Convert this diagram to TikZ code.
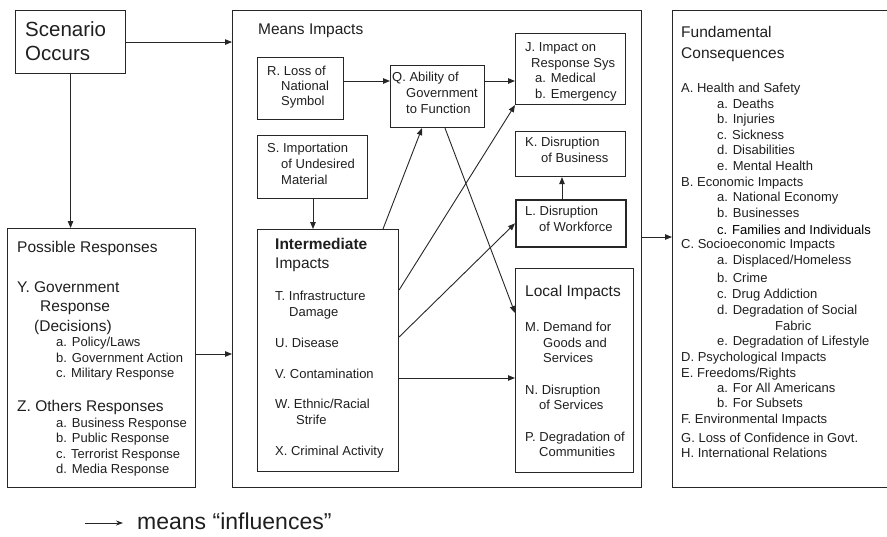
\documentclass[tikz,border=0pt]{standalone}
\usepackage{fontspec}
\setmainfont{Liberation Sans}
\usetikzlibrary{arrows.meta,calc}
\newcommand\fS{\fontsize{13}{15}\selectfont}
\newcommand\fM{\fontsize{15.5}{18}\selectfont}
\newcommand\fL{\fontsize{20.5}{24}\selectfont}
\newcommand\fG{\fontsize{23}{26}\selectfont}
\newcommand\tx[4][ts]{\node[#1] (#2) at (#3) {#4};}
\begin{document}
\begin{tikzpicture}[x=1pt,y=-1pt,
  box/.style={draw=black!85,line width=1.1pt,inner sep=0,anchor=north west},
  arr/.style={draw=black!85,line width=0.9pt,-{Triangle[length=7pt,width=5.5pt]}},
  ts/.style={anchor=base west,inner sep=0,font=\fS,text=black!88},
  tm/.style={anchor=base west,inner sep=0,font=\fM,text=black!88},
  tl/.style={anchor=base west,inner sep=0,font=\fL,text=black!88},
  tg/.style={anchor=base west,inner sep=0,font=\fG,text=black!88}]
\useasboundingbox (0,0) rectangle (887,536);
\clip (0,0) rectangle (887,536);
% boxes
\node[box,minimum width=110pt,minimum height=63pt] (scen) at (15,10) {};
\node[box,minimum width=188pt,minimum height=259pt] (poss) at (7,228) {};
\node[box,minimum width=409pt,minimum height=477pt] (means) at (232,10) {};
\node[box,minimum width=86pt,minimum height=62pt] (R) at (257,57) {};
\node[box,minimum width=110pt,minimum height=63pt] (S) at (257,135) {};
\node[box,minimum width=94pt,minimum height=62pt] (Q) at (390,65) {};
\node[box,minimum width=110pt,minimum height=71pt] (J) at (515,33) {};
\node[box,minimum width=110pt,minimum height=45pt] (K) at (515,131) {};
\node[box,line width=1.7pt,minimum width=110pt,minimum height=47pt] (L) at (515,199) {};
\node[box,minimum width=141pt,minimum height=242pt] (inter) at (257,229) {};
\node[box,minimum width=118pt,minimum height=204pt] (local) at (515,268) {};
\node[box,minimum width=240pt,minimum height=477pt] (fund) at (672,10) {};
% scenario
\tx[tl]{sc1}{25,36.3}{Scenario}
\tx[tl]{sc2}{25,60.3}{Occurs}
% possible responses
\tx[tm]{p0}{17,252.5}{Possible Responses}
\tx[tm]{p1}{17,292.5}{Y. Government}
\tx[tm]{p2}{40,311}{Response}
\tx[tm]{p3}{34,331}{(Decisions)}
\tx{p4}{56,346.5}{a. Policy/Laws}
\tx{p5}{56,362.5}{b. Government Action}
\tx{p6}{56,377.5}{c. Military Response}
\tx[tm]{p7}{17,411.5}{Z. Others Responses}
\tx{p8}{56,427.5}{a. Business Response}
\tx{p9}{56,442.5}{b. Public Response}
\tx{p10}{56,458.5}{c. Terrorist Response}
\tx{p11}{56,473.5}{d. Media Response}
% means
\tx[tm]{m0}{258,34.5}{Means Impacts}
\tx{r1}{267,75.5}{R. Loss of}
\tx{r2}{281,90.5}{National}
\tx{r3}{281,105.5}{Symbol}
\tx{s1}{267,152.5}{S. Importation}
\tx{s2}{281,168.5}{of Undesired}
\tx{s3}{281,184.5}{Material}
\tx{q1}{392,81.5}{Q. Ability of}
\tx{q2}{406,97.5}{Government}
\tx{q3}{406,113.5}{to Function}
\tx{j1}{525,51.5}{J. Impact on}
\tx{j2}{531,67.5}{Response Sys}
\tx{j3}{535,82.5}{a. Medical}
\tx{j4}{535,98.5}{b. Emergency}
\tx{k1}{525,146.5}{K. Disruption}
\tx{k2}{541,162.5}{of Business}
\tx{l1}{525,215.5}{L. Disruption}
\tx{l2}{539,231.5}{of Workforce}
\tx[tm]{i0}{275,249.5}{\bfseries Intermediate}
\tx[tm]{i1}{275,268.5}{Impacts}
\tx{i2}{275,300}{T. Infrastructure}
\tx{i3}{289,316}{Damage}
\tx{i4}{275,347}{U. Disease}
\tx{i5}{275,378}{V. Contamination}
\tx{i6}{275,408.5}{W. Ethnic/Racial}
\tx{i7}{296,424.5}{Strife}
\tx{i8}{275,455.5}{X. Criminal Activity}
\tx[tm]{lo0}{525,296.5}{Local Impacts}
\tx{lo1}{525,331.5}{M. Demand for}
\tx{lo2}{543,347}{Goods and}
\tx{lo3}{543,362.5}{Services}
\tx{lo4}{525,394.5}{N. Disruption}
\tx{lo5}{539,409}{of Services}
\tx{lo6}{525,441.5}{P. Degradation of}
\tx{lo7}{539,456.5}{Communities}
% fundamental
\tx[tm]{f0}{681,37.5}{Fundamental}
\tx[tm]{f1}{681,58.5}{Consequences}
\tx{f2}{681,92.5}{A. Health and Safety}
\tx{f3}{717,108.5}{a. Deaths}
\tx{f4}{717,123.5}{b. Injuries}
\tx{f5}{717,139.5}{c. Sickness}
\tx{f6}{717,154.5}{d. Disabilities}
\tx{f7}{717,170.5}{e. Mental Health}
\tx{f8}{681,186.5}{B. Economic Impacts}
\tx{f9}{717,201.5}{a. National Economy}
\tx{f10}{717,217.5}{b. Businesses}
\tx[ts,text=black]{f11}{717,234.5}{c. Families and Individuals}
\tx{f12}{681,248.5}{C. Socioeconomic Impacts}
\tx{f13}{717,264.5}{a. Displaced/Homeless}
\tx{f14}{717,282.5}{b. Crime}
\tx{f15}{717,298.5}{c. Drug Addiction}
\tx{f16}{717,314.5}{d. Degradation of Social}
\tx{f17}{775,330.5}{Fabric}
\tx{f18}{717,345.5}{e. Degradation of Lifestyle}
\tx{f19}{681,361.5}{D. Psychological Impacts}
\tx{f20}{681,377.5}{E. Freedoms/Rights}
\tx{f21}{717,392.5}{a. For All Americans}
\tx{f22}{717,407.5}{b. For Subsets}
\tx{f23}{681,423.5}{F. Environmental Impacts}
\tx{f24}{681,442.5}{G. Loss of Confidence in Govt.}
\tx{f25}{681,457.5}{H. International Relations}
% legend
\tx[tg]{lg}{137,529.5}{means “influences”}
\coordinate (lgs) at (85,523);
% connectors
\draw[arr] (scen.east) -- (scen.east -| means.west);
\draw[arr] (scen.south) -- (scen.south |- poss.north);
\draw[arr] ($(poss.north east)+(0,126)$) -- ($(means.north west)+(0,344)$);
\draw[arr] ($(R.north east)+(0,24)$) -- ($(Q.north west)+(0,16)$);
\draw[arr] ($(Q.north east)+(0,16)$) -- ($(J.north west)+(0,48)$);
\draw[arr] ($(S.south west)+(56,0)$) -- ($(inter.north west)+(56,0)$);
\draw[arr] ($(inter.north west)+(126,0)$) -- ($(Q.south west)+(32,0)$);
\draw[arr] ($(inter.north east)+(0,61)$) -- (J.south west);
\draw[arr] ($(inter.north east)+(0,108)$) -- (L.west);
\draw[arr] ($(inter.north east)+(0,149)$) -- ($(local.north west)+(0,110)$);
\draw[arr] ($(Q.south west)+(55,0)$) -- ($(local.north west)+(0,45)$);
\draw[arr] ($(L.north west)+(47,0)$) -- ($(K.south west)+(47,0)$);
\draw[arr] ($(means.north east)+(0,227)$) -- ($(fund.north west)+(0,227)$);
\draw[draw=black!85,line width=0.9pt,-{Stealth[length=7pt,width=5pt]},shorten >=14pt] (lgs) -- (lgs -| lg.west);
\end{tikzpicture}
\end{document}
